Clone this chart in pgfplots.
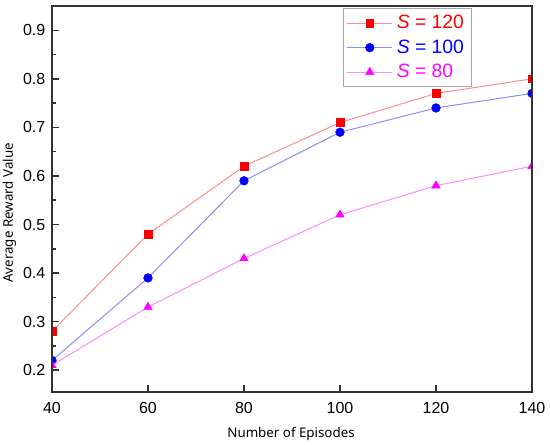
\documentclass[border=0pt]{standalone}
\usepackage{pgfplots}
\pgfplotsset{compat=1.18}
\usepackage{fontspec}
\setmainfont{Liberation Sans}
\newfontfamily\labelfont{Noto Sans}
\definecolor{framec}{HTML}{333333}
\definecolor{lred}{HTML}{FF8C8C}
\definecolor{lblue}{HTML}{8C8CFF}
\definecolor{lmag}{HTML}{FF8CFF}
\definecolor{mred}{HTML}{FF0000}
\definecolor{mblue}{HTML}{0000FF}
\definecolor{mmag}{HTML}{FF00FF}
\begin{document}
\begin{tikzpicture}
\path[use as bounding box] (-39pt,-39pt) rectangle (373.5pt,294pt);
\begin{axis}[
  scale only axis,
  width=360pt, height=289.5pt,
  xmin=40, xmax=140, ymin=0.155, ymax=0.95,
  xtick={40,60,...,140},
  ytick={0.2,0.3,...,0.9},
  minor y tick num=1,
  xtick pos=left, ytick pos=left,
  tick align=inside,
  major tick length=5.5pt, minor tick length=3pt,
  axis line style={framec, line width=1.1pt},
  every tick/.style={framec, line width=1.1pt},
  /pgf/number format/assume math mode=true,
  yticklabel style={/pgf/number format/fixed, /pgf/number format/fixed zerofill, /pgf/number format/precision=1, xshift=-1.5pt},
  ticklabel style={font=\fontsize{12}{14}\selectfont, text=black},
  xticklabel style={yshift=-4pt},
  xlabel={Number of Episodes},
  ylabel={Average Reward Value},
  label style={font=\labelfont\fontsize{10}{12}\selectfont},
  xlabel style={at={(axis description cs:0.498,-0.118)}, anchor=base},
  ylabel style={at={(axis description cs:-0.0885,0.464)}, anchor=center},
  clip mode=individual,
  clip marker paths=true,
  axis on top,
  legend image code/.code={\draw[mark repeat=2,mark phase=2] plot coordinates {(0pt,0pt) (16.9pt,0pt) (33.8pt,0pt)};},
  legend style={at={(axis description cs:0.606,0.995)}, anchor=north west,
    draw=gray!70, line width=0.8pt, inner xsep=2.5pt, inner ysep=1.8pt,
    font=\fontsize{14.5}{16}\selectfont,
    cells={anchor=west},
    nodes={inner ysep=0pt, inner xsep=3pt, text height=13.2pt, text depth=5.2pt}},
]
\addplot[lred, line width=0.75pt, mark=square*, mark size=2.9pt, mark options={mred, fill=mred, line width=0.3pt}]
  coordinates {(40,0.28) (60,0.48) (80,0.62) (100,0.71) (120,0.77) (140,0.80)};
\addlegendentry{\textcolor{mred}{\textit{S} = 120}}
\addplot[lblue, line width=0.75pt, mark=*, mark size=3.3pt, mark options={mblue, fill=mblue, line width=0.3pt}]
  coordinates {(40,0.22) (60,0.39) (80,0.59) (100,0.69) (120,0.74) (140,0.77)};
\addlegendentry{\textcolor{mblue}{\textit{S} = 100}}
\addplot[lmag, line width=0.75pt, mark=triangle*, mark size=3.7pt, mark options={mmag, fill=mmag, line width=0.3pt}]
  coordinates {(40,0.21) (60,0.33) (80,0.43) (100,0.52) (120,0.58) (140,0.62)};
\addlegendentry{\textcolor{mmag}{\textit{S} = 80}}
\end{axis}
\end{tikzpicture}
\end{document}
